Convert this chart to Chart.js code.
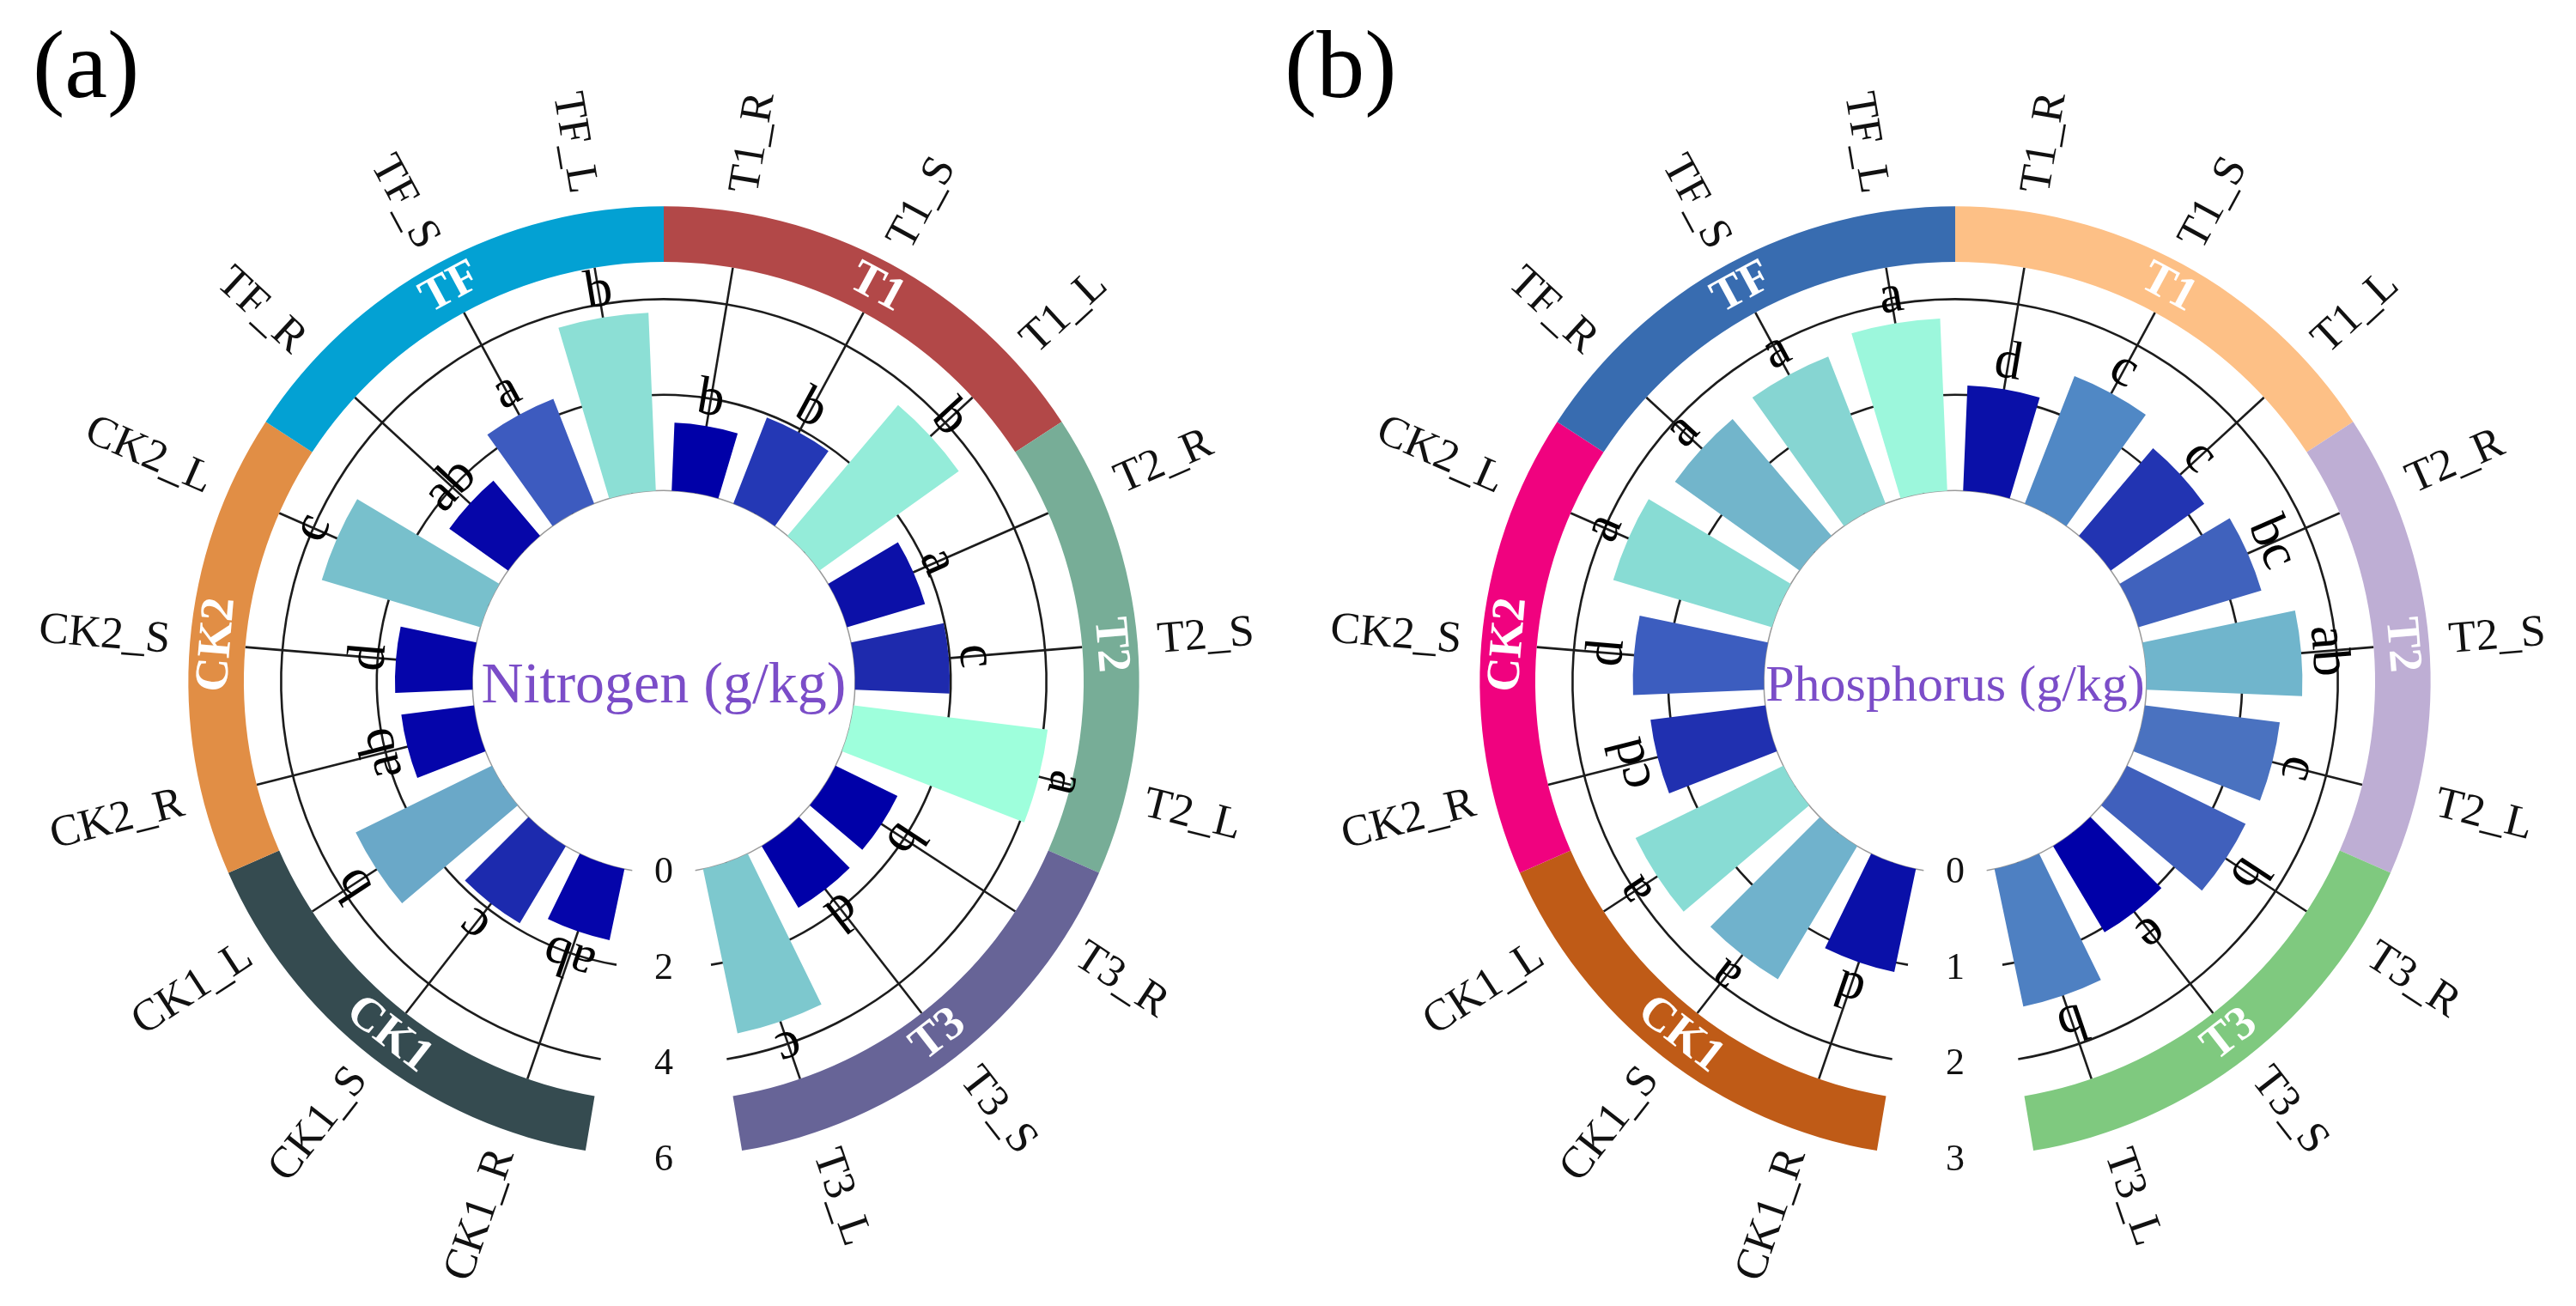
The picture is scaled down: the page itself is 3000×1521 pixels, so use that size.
<!DOCTYPE html>
<html>
<head>
<meta charset="utf-8">
<script src="https://cdn.jsdelivr.net/npm/chart.js@4.4.1/dist/chart.umd.min.js"></script>
<style>
html,body{margin:0;padding:0;background:#fff;width:3000px;height:1521px;overflow:hidden}
canvas{position:absolute;top:0}
#ca{left:0}
#cb{left:1450px}
</style>
</head>
<body>
<canvas id="ca" width="1500" height="1521"></canvas>
<canvas id="cb" width="1550" height="1521"></canvas>
<script>
// ---- data (clockwise, starting right after the gap at the bottom) ----
const categories = ['CK1_R','CK1_S','CK1_L','CK2_R','CK2_S','CK2_L','TF_R','TF_S','TF_L',
                    'T1_R','T1_S','T1_L','T2_R','T2_S','T2_L','T3_R','T3_S','T3_L'];
const groups = ['CK1','CK2','TF','T1','T2','T3'];

const nitrogen = [1.52,1.88,3.17, 1.53,1.62,3.46, 1.51,2.35,3.72,
                  1.42,1.93,3.58, 1.70,1.98,4.09, 1.44,1.50,3.51];
const nitrogenLetters = ['ab','c','b','ab','d','c','ab','a','b',
                         'b','b','b','a','c','a','b','d','c'];
const nitrogenTicks = [0,2,4,6];

const phosphorus = [1.10,1.62,1.72, 1.21,1.37,1.73, 1.60,1.65,1.80,
                    1.10,1.43,1.20, 1.34,1.63,1.42, 1.38,1.05,1.47];
const phosphorusLetters = ['d','a','a','cd','d','a','a','a','a',
                           'd','c','c','bc','ab','c','b','e','b'];
const phosphorusTicks = [0,1,2,3];

// ---- styles ----
const nitrogenColors = ['#0505aa','#1c2aae','#6aa8c8','#0505aa','#0505aa','#78c0cc','#0606a9','#3d5bbf','#8cdfd5',
                        '#0000a8','#2438b5','#94ecd9','#0c10a8','#1e2aad','#9effdc','#0000a8','#0000a8','#7dc8ce'];
const phosphorusColors = ['#0a10a8','#70b2cc','#88dcd4','#2030b0','#3c5dbf','#88dcd4','#72b5cb','#86d5d2','#9cf7dc',
                          '#0a10a8','#5088c5','#2234b2','#4062bd','#70b5cc','#4a72c0','#4060bc','#0000a8','#4e80c2'];
const nitrogenGroupColors = ['#354b50','#e18e45','#03a1d3','#b24848','#77ad97','#676497'];
const phosphorusGroupColors = ['#bf5b17','#f0027f','#386cb0','#fdc086','#beaed4','#7fc97f'];

const SERIF = '"Liberation Serif", "Times New Roman", serif';
const SLOT_DEG = 360 / (categories.length + 1);
const BAR_DEG = 14.2;
const PAD = (SLOT_DEG - BAR_DEG) / 2 * Math.PI / 180;
const D2R = Math.PI / 180;

function decor(o) {
  return {
    id: 'decor',
    afterDatasetsUpdate(chart) {
      const s = chart.scales.r;
      const r0 = s.getDistanceFromCenterForValue(0);
      chart.getDatasetMeta(0).data.forEach(a => {
        a.innerRadius = r0;
        a.startAngle += PAD;
        a.endAngle -= PAD;
      });
    },
    beforeDatasetsDraw(chart) {
      const ctx = chart.ctx, s = chart.scales.r, cx = s.xCenter, cy = s.yCenter;
      const arcs = chart.getDatasetMeta(0).data;
      const a0 = arcs[0].startAngle - PAD, a1 = arcs[arcs.length - 1].endAngle + PAD;
      const r0 = s.getDistanceFromCenterForValue(0);
      const rIn = s.drawingArea * 0.878;
      ctx.save();
      ctx.strokeStyle = '#9a9a9a'; ctx.lineWidth = 1.5;
      ctx.beginPath(); ctx.arc(cx, cy, r0, a0, a1); ctx.stroke();
      ctx.strokeStyle = '#1c1c1c'; ctx.lineWidth = 2.6;
      o.ticks.slice(1, -1).forEach(v => {
        ctx.beginPath(); ctx.arc(cx, cy, s.getDistanceFromCenterForValue(v), a0, a1); ctx.stroke();
      });
      arcs.forEach(a => {
        const m = (a.startAngle + a.endAngle) / 2;
        ctx.beginPath();
        ctx.moveTo(cx + r0 * Math.cos(m), cy + r0 * Math.sin(m));
        ctx.lineTo(cx + rIn * Math.cos(m), cy + rIn * Math.sin(m));
        ctx.stroke();
      });
      ctx.restore();
    },
    afterDatasetsDraw(chart) {
      const ctx = chart.ctx, s = chart.scales.r, cx = s.xCenter, cy = s.yCenter;
      const arcs = chart.getDatasetMeta(0).data;
      const R = s.drawingArea;
      const rIn = R * 0.878, rOut = R * 0.994, rMid = (rIn + rOut) / 2;
      ctx.save();
      // group ring
      groups.forEach((g, gi) => {
        const sa = arcs[gi * 3].startAngle - PAD, ea = arcs[gi * 3 + 2].endAngle + PAD;
        ctx.beginPath();
        ctx.arc(cx, cy, rOut, sa, ea);
        ctx.arc(cx, cy, rIn, ea, sa, true);
        ctx.closePath();
        ctx.fillStyle = o.groupColors[gi];
        ctx.fill();
        const th = (sa + ea) / 2 + Math.PI / 2;
        const deg = ((th / D2R) % 360 + 360) % 360;
        ctx.save();
        ctx.translate(cx, cy);
        ctx.fillStyle = '#ffffff';
        ctx.font = 'bold 55px ' + SERIF;
        ctx.textAlign = 'center'; ctx.textBaseline = 'middle';
        if (deg > 90 && deg < 270) { ctx.rotate(th - Math.PI); ctx.fillText(g, 0, rMid); }
        else { ctx.rotate(th); ctx.fillText(g, 0, -rMid); }
        ctx.restore();
      });
      // category labels and letters
      arcs.forEach((a, i) => {
        const th = (a.startAngle + a.endAngle) / 2 + Math.PI / 2;
        const deg = ((th / D2R) % 360 + 360) % 360;
        ctx.save();
        ctx.translate(cx, cy);
        ctx.fillStyle = '#111';
        ctx.font = '52px ' + SERIF;
        ctx.textBaseline = 'middle';
        const rl = R * 1.036;
        if (deg < 180) { ctx.rotate(th - Math.PI / 2); ctx.textAlign = 'left'; ctx.fillText(categories[i], rl, 0); }
        else { ctx.rotate(th + Math.PI / 2); ctx.textAlign = 'right'; ctx.fillText(categories[i], -rl, 0); }
        ctx.restore();
        ctx.save();
        ctx.translate(cx, cy);
        ctx.rotate(th);
        ctx.fillStyle = '#000';
        ctx.font = '63px ' + SERIF;
        ctx.textAlign = 'center'; ctx.textBaseline = 'alphabetic';
        ctx.fillText(o.letters[i], 0, -(s.getDistanceFromCenterForValue(o.values[i]) + 14));
        ctx.restore();
      });
      // radial tick labels in the gap
      ctx.fillStyle = '#111';
      ctx.font = '44px ' + SERIF;
      ctx.textAlign = 'center'; ctx.textBaseline = 'middle';
      o.ticks.forEach(v => ctx.fillText(String(v), cx, cy + s.getDistanceFromCenterForValue(v)));
      // centre title
      ctx.fillStyle = '#7b4dc8';
      ctx.font = o.titleSize + 'px ' + SERIF;
      ctx.textBaseline = 'alphabetic';
      ctx.fillText(o.title, cx, cy + o.titleSize * 0.36);
      // panel label
      ctx.fillStyle = '#000';
      ctx.font = '112px ' + SERIF;
      ctx.textAlign = 'left';
      ctx.fillText(o.panel, o.panelX, 113);
      ctx.restore();
    }
  };
}

function makeChart(id, o, padLeft, width) {
  const maxV = o.ticks[o.ticks.length - 1];
  return new Chart(document.getElementById(id), {
    type: 'polarArea',
    data: {
      labels: categories,
      datasets: [{ data: o.values, backgroundColor: o.colors, borderWidth: 0, angle: SLOT_DEG }]
    },
    options: {
      responsive: false,
      animation: false,
      events: [],
      layout: { padding: { left: padLeft, right: width - padLeft - 1114, top: 237, bottom: 1521 - 237 - 1114 } },
      plugins: { legend: { display: false }, tooltip: { enabled: false } },
      scales: {
        r: {
          min: -maxV * 2 / 3,
          max: maxV,
          startAngle: 180 + SLOT_DEG / 2,
          ticks: { display: false },
          grid: { display: false },
          angleLines: { display: false },
          pointLabels: { display: false }
        }
      }
    },
    plugins: [decor(o)]
  });
}

makeChart('ca', {
  values: nitrogen, colors: nitrogenColors, letters: nitrogenLetters, ticks: nitrogenTicks,
  groupColors: nitrogenGroupColors, title: 'Nitrogen (g/kg)', titleSize: 68, panel: '(a)', panelX: 38
}, 216, 1500);

makeChart('cb', {
  values: phosphorus, colors: phosphorusColors, letters: phosphorusLetters, ticks: phosphorusTicks,
  groupColors: phosphorusGroupColors, title: 'Phosphorus (g/kg)', titleSize: 60, panel: '(b)', panelX: 46
}, 270, 1550);
</script>
</body>
</html>
